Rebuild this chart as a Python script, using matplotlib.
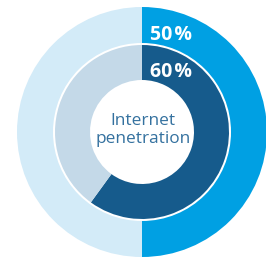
import matplotlib.pyplot as plt

# values
outer_values = [50, 50]   # overall share, rest
inner_values = [60, 40]
outer_label = "50\u200a%"
inner_label = "60\u200a%"
center_text = "Internet\npenetration"

outer_colors = ["#00a0e3", "#d3ebf8"]
inner_colors = ["#165b8c", "#c4d9e8"]

W, H = 266, 258
fig = plt.figure(figsize=(W / 100, H / 100), dpi=100)
ax = fig.add_axes([0, 0, 1, 1])

cx, cy = 142, H - 132

ax.pie(outer_values, radius=125, center=(cx, cy), startangle=90, counterclock=False,
       colors=outer_colors, wedgeprops=dict(width=36, linewidth=0))
ax.pie(inner_values, radius=87, center=(cx, cy), startangle=90, counterclock=False,
       colors=inner_colors, wedgeprops=dict(width=35, linewidth=0))

fam = ["Open Sans", "DejaVu Sans"]
ax.text(171, H - 35, outer_label, color="white", fontsize=14, fontweight="bold",
        family=fam, ha="center", va="center")
ax.text(171, H - 72, inner_label, color="white", fontsize=14, fontweight="bold",
        family=fam, ha="center", va="center")
ax.text(cx + 1, H - 130, center_text, color="#34719f", fontsize=12.4, family=fam,
        ha="center", va="center", linespacing=1.15)

ax.set_xlim(0, W)
ax.set_ylim(0, H)
ax.set_aspect("equal")
ax.axis("off")

fig.savefig("out.png", dpi=100, facecolor="white")
